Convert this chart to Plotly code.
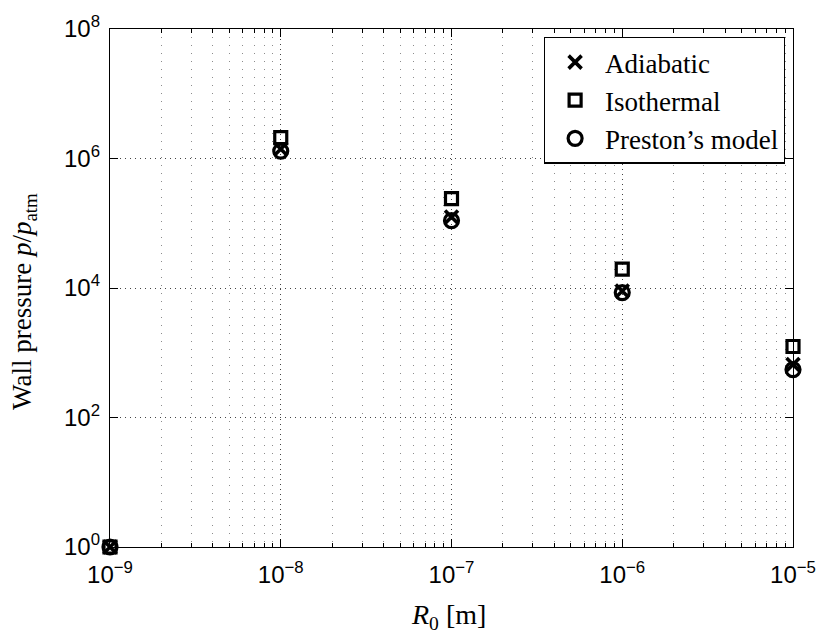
import plotly.graph_objects as go

# Bubble radius R0 [m] and peak wall pressure normalised by atmospheric pressure
r0 = [1e-9, 1e-8, 1e-7, 1e-6, 1e-5]
adiabatic = [1, 1.4e6, 1.25e5, 9.0e3, 6.6e2]
isothermal = [1, 2.1e6, 2.4e5, 1.95e4, 1.25e3]
preston = [1, 1.3e6, 1.1e5, 8.5e3, 5.5e2]

x_exponents = [-9, -8, -7, -6, -5]
y_exponents = [0, 2, 4, 6, 8]

x_major = [10.0 ** e for e in x_exponents]
x_minor = [m * 10.0 ** e for e in x_exponents[:-1] for m in range(2, 10)]
y_major = [10.0 ** e for e in y_exponents]


def power_label(e):
    sign = "\u2212" if e < 0 else ""
    return f"10<sup>{sign}{abs(e)}</sup>"


series = [
    ("Adiabatic", adiabatic, "x-thin-open", 13, 3.6),
    ("Isothermal", isothermal, "square-open", 12, 3.2),
    ("Preston\u2019s model", preston, "circle-open", 14, 3.2),
]

fig = go.Figure()
for name, values, symbol, size, lw in series:
    fig.add_trace(go.Scatter(
        x=r0, y=values, name=name, mode="markers", cliponaxis=False,
        marker=dict(symbol=symbol, size=size, color="black",
                    line=dict(color="black", width=lw)),
    ))

sans = "Liberation Sans, Arial, Helvetica, sans-serif"
serif = "Liberation Serif, Times New Roman, serif"

fig.update_xaxes(
    type="log", range=[-9, -5],
    tickmode="array", tickvals=x_major,
    ticktext=[power_label(e) for e in x_exponents],
    tickfont=dict(family=sans, size=24, color="black"),
    ticks="inside", ticklen=8, tickwidth=1, tickcolor="black",
    showline=True, linecolor="black", linewidth=1.3, mirror="ticks",
    showgrid=True, gridcolor="#444444", gridwidth=1, griddash="1px,4px",
    minor=dict(tickmode="array", tickvals=x_minor, ticks="inside",
               ticklen=4, tickcolor="black", showgrid=True,
               gridcolor="#8c8c8c", gridwidth=1, griddash="1px,7px"),
    zeroline=False, ticklabelstandoff=6,
)
fig.update_yaxes(
    type="log", range=[0, 8],
    tickmode="array", tickvals=y_major,
    ticktext=[power_label(e) for e in y_exponents],
    tickfont=dict(family=sans, size=24, color="black"),
    ticks="inside", ticklen=8, tickwidth=1, tickcolor="black",
    showline=True, linecolor="black", linewidth=1.3, mirror="ticks",
    showgrid=True, gridcolor="#444444", gridwidth=1, griddash="1px,4px",
    zeroline=False, ticklabelstandoff=4,
)

fig.add_annotation(
    text="Wall pressure <i>p</i>/<i>p</i><sub>atm</sub>",
    xref="paper", yref="paper", x=-0.126, y=0.475,
    xanchor="center", yanchor="middle", textangle=-90, showarrow=False,
    font=dict(family=serif, size=27, color="black"),
)
fig.add_annotation(
    text="<i>R</i><sub>0</sub> [m]",
    xref="paper", yref="paper", x=0.495, y=-0.135,
    xanchor="center", yanchor="middle", showarrow=False,
    font=dict(family=serif, size=28, color="black"),
)

fig.update_layout(
    width=828, height=635,
    margin=dict(l=110, r=27, t=28, b=88),
    paper_bgcolor="white", plot_bgcolor="white",
    legend=dict(
        x=0.988, y=0.985, xanchor="right", yanchor="top",
        bgcolor="white", bordercolor="black", borderwidth=1.3,
        font=dict(family=serif, size=27, color="black"),
        tracegroupgap=0, itemwidth=50,
    ),
    showlegend=True,
)

fig.write_html("out.html")
